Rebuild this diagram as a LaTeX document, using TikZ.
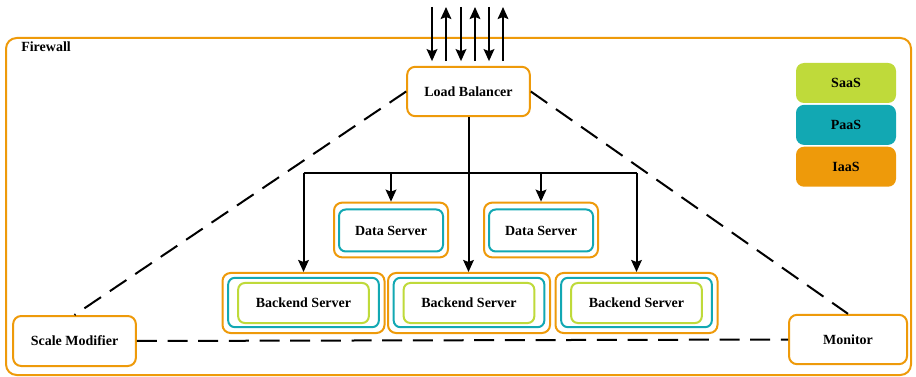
\documentclass[tikz,border=0pt]{standalone}
\usepackage{fontspec}
\setmainfont{Liberation Serif}
\usetikzlibrary{arrows.meta,positioning}
\definecolor{fworange}{HTML}{EE9A0A}
\definecolor{paasteal}{HTML}{12A8B3}
\definecolor{saaslime}{HTML}{BFDA3A}

\begin{document}
\begin{tikzpicture}[x=0.75pt,y=-0.75pt,
  font=\fontsize{10.5}{12}\selectfont\bfseries,
  box/.style={draw=fworange,line width=1.5pt,rounded corners=6pt,fill=white,align=center},
  midbox/.style={draw=paasteal,line width=1.5pt,rounded corners=5pt,align=center},
  inbox/.style={draw=saaslime,line width=1.5pt,rounded corners=5pt,align=center},
  legbox/.style={rounded corners=6pt,minimum width=75pt,minimum height=30pt,inner sep=0pt},
  arr/.style={-{Stealth[length=9pt,width=8pt,inset=1.5pt]},line width=1.5pt},
  dline/.style={line width=1.5pt,dash pattern=on 15pt off 8pt}]
\useasboundingbox (0,0) rectangle (916,377);
% firewall
\node[draw=fworange,line width=1.5pt,rounded corners=8pt,minimum width=678.75pt,minimum height=252.75pt] (fw) at (458.5,206.5) {};
\node[anchor=north west,inner sep=0pt] (fwlab) at (21,42) {Firewall};
% main boxes
\node[box,minimum width=92pt,minimum height=37pt] (lb) at (468.5,91.5) {Load Balancer};
\node[box,minimum width=92pt,minimum height=37.5pt] (sm) at (74.5,341) {Scale Modifier};
\node[box,minimum width=88.5pt,minimum height=37pt] (mon) at (848,339.5) {Monitor};
% data servers
\foreach \n/\x in {d1/391,d2/541}{
  \node[box,minimum width=85.5pt,minimum height=41pt] (\n) at (\x,230) {};
  \node[midbox,minimum width=78pt,minimum height=31.5pt] (\n m) at (\x,230.5) {Data Server};
}
% backend servers
\foreach \n/\x in {b1/303.5,b2/469,b3/636.5}{
  \node[box,minimum width=121.5pt,minimum height=45pt] (\n) at (\x,303) {};
  \node[midbox,minimum width=113pt,minimum height=37pt] (\n m) at (\x,302.5) {};
  \node[inbox,minimum width=98pt,minimum height=30pt] (\n i) at (\x,303) {Backend Server};
}
% legend
\node[legbox,fill=saaslime] (saas) at (846,83) {SaaS};
\node[legbox,fill=paasteal,below=1pt of saas] (paas) {PaaS};
\node[legbox,fill=fworange,below=1pt of paas] (iaas) {IaaS};
% traffic in and out
\foreach \i/\x in {1/432,2/446,3/461,4/475,5/489,6/503}
  \coordinate (t\i) at (\x,7);
\foreach \i in {1,3,5}
  \draw[arr,shorten >=3.5pt] (t\i) -- (t\i |- lb.north);
\foreach \i in {2,4,6}
  \draw[arr,shorten <=3.5pt] (t\i |- lb.north) -- (t\i);
% distribution
\coordinate (bus) at (468,173);
\draw[arr] (lb.south) -- (lb.south |- b2.north);
\draw[line width=1.5pt] (b1.north |- bus) -- (b3.north |- bus);
\foreach \n in {b1,d1,d2,b3}
  \draw[arr] (\n.north |- bus) -- (\n.north);
% monitoring
\draw[dline] (lb.west) -- (sm.north);
\draw[dline] (lb.east) -- (mon.north);
\draw[dline] (sm.east) -- (mon.west);
\end{tikzpicture}
\end{document}
